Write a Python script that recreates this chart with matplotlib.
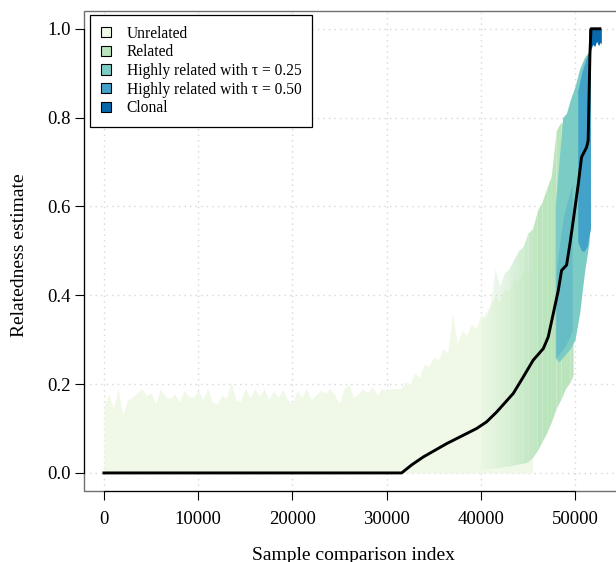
import matplotlib
matplotlib.use('Agg')
import matplotlib.pyplot as plt
from matplotlib.patches import Patch, Rectangle

plt.rcParams['font.family'] = ['Liberation Serif', 'DejaVu Serif']

# ---------------- data ----------------
categories = ['Unrelated', 'Related', 'Highly related with τ = 0.25',
              'Highly related with τ = 0.50', 'Clonal']
colors = ['#f0f9e8', '#bae4bc', '#7bccc4', '#43a2ca', '#0868ac']

unrel_idx = list(range(0, 45501, 500))
unrel_low = [0.0] * len(unrel_idx)
unrel_up = [0.15, 0.178, 0.145, 0.19, 0.13, 0.165, 0.17, 0.18, 0.19, 0.175,
            0.18, 0.155, 0.19, 0.172, 0.168, 0.178, 0.16, 0.185, 0.172, 0.17,
            0.186, 0.165, 0.19, 0.16, 0.155, 0.175, 0.168, 0.205, 0.165, 0.162,
            0.19, 0.17, 0.19, 0.172, 0.19, 0.165, 0.185, 0.17, 0.188, 0.164,
            0.155, 0.185, 0.17, 0.19, 0.165, 0.175, 0.186, 0.18, 0.19, 0.175,
            0.155, 0.19, 0.2, 0.17, 0.178, 0.19, 0.18, 0.195, 0.175, 0.19,
            0.185, 0.19, 0.19,
            0.19, 0.205, 0.2, 0.225, 0.215, 0.245, 0.24, 0.26, 0.255, 0.28,
            0.27, 0.36, 0.29, 0.32, 0.31, 0.335, 0.325, 0.355, 0.35, 0.375,
            0.4, 0.385, 0.415, 0.41, 0.44, 0.43, 0.455, 0.45, 0.46]

rel_idx = [40000, 40500, 41000, 41500, 42000, 42500, 43000, 43500, 44000, 44500,
           45000, 45500, 46000, 46500, 47000, 47500, 48000, 48500, 49000, 49500, 49800]
rel_low = [0.008, 0.01, 0.01, 0.012, 0.012, 0.015, 0.015, 0.018, 0.02, 0.022,
           0.025, 0.035, 0.05, 0.07, 0.09, 0.115, 0.145, 0.165, 0.19, 0.205, 0.22]
rel_up = [0.34, 0.36, 0.38, 0.46, 0.42, 0.45, 0.46, 0.48, 0.5, 0.51,
          0.54, 0.55, 0.59, 0.61, 0.64, 0.67, 0.77, 0.79, 0.78, 0.8, 0.79]

hr25_idx = [47900, 48300, 48700, 49100, 49500, 50000, 50500, 51000, 51500]
hr25_low = [0.26, 0.25, 0.26, 0.27, 0.28, 0.30, 0.36, 0.45, 0.52]
hr25_up = [0.6, 0.7, 0.8, 0.81, 0.84, 0.87, 0.91, 0.935, 0.95]

hr50a_idx = [48000, 48400, 48800, 49300, 49700]
hr50a_low = [0.26, 0.27, 0.28, 0.30, 0.32]
hr50a_up = [0.45, 0.52, 0.58, 0.62, 0.65]

hr50_idx = [50300, 50700, 51000, 51300, 51650]
hr50_low = [0.52, 0.5, 0.5, 0.51, 0.55]
hr50_up = [0.86, 0.9, 0.92, 0.94, 0.95]

clon_idx = [51450, 51700, 51900, 52100, 52300, 52500, 52700, 52800]
clon_low = [0.94, 0.955, 0.965, 0.96, 0.972, 0.962, 0.97, 0.965]
clon_up = [1.0] * len(clon_idx)

est_idx = [0, 31600, 32660, 33900, 36380, 39560, 40620, 41680, 43450, 44510,
           45570, 46640, 47160, 47700, 48230, 48580, 49110, 49460, 49810, 50350,
           50700, 51230, 51400, 51590, 51700, 52650]
est_val = [0.0, 0.0, 0.018, 0.036, 0.066, 0.100, 0.115, 0.137, 0.179, 0.216,
           0.254, 0.280, 0.306, 0.359, 0.411, 0.456, 0.468, 0.515, 0.567, 0.65,
           0.711, 0.733, 0.748, 0.944, 1.0, 1.0]

xticks = [0, 10000, 20000, 30000, 40000, 50000]
xticklabels = ['0', '10000', '20000', '30000', '40000', '50000']
yticks = [0.0, 0.2, 0.4, 0.6, 0.8, 1.0]
yticklabels = ['0.0', '0.2', '0.4', '0.6', '0.8', '1.0']

# ---------------- figure ----------------
W, H = 616, 562
fig = plt.figure(figsize=(W / 100, H / 100), dpi=100)
L, R, T, B = 84, 623, 11, 490.7
ax = fig.add_axes([L / W, (H - B) / H, (R - L) / W, (B - T) / H])
ax.set_xlim(-2120, 55100)
ax.set_ylim(-0.04, 1.04)

ax.set_xticks(xticks)
ax.set_xticklabels(xticklabels)
ax.set_yticks(yticks)
ax.set_yticklabels(yticklabels)
ax.grid(True, color='#d6d6d6', linestyle=(0, (1, 3)), linewidth=1.0)
ax.set_axisbelow(True)

ax.tick_params(axis='both', direction='out', length=6.5, width=0.8,
               colors='black', labelsize=13.5)
ax.tick_params(axis='x', pad=8.0)
ax.tick_params(axis='y', pad=3.0)

for s in ['top', 'right']:
    ax.spines[s].set_visible(False)
ax.spines['left'].set_bounds(0.0, 1.0)
ax.spines['bottom'].set_bounds(0, 50000)
ax.spines['left'].set_linewidth(0.8)
ax.spines['bottom'].set_linewidth(0.8)
ax.add_patch(Rectangle((0, 0), 1, 1, transform=ax.transAxes, fill=False,
                       edgecolor='#707070', linewidth=1.0, clip_on=False, zorder=0.5))

# bands
ax.fill_between(unrel_idx, unrel_low, unrel_up, color=colors[0], lw=0, zorder=2)
# related segments get denser from left to right: fade them in
rel_alpha = [0.12, 0.18, 0.24, 0.3, 0.36, 0.42, 0.5, 0.58, 0.66, 0.74,
             0.82, 0.9, 1, 1, 1, 1, 1, 1, 1, 1]
for i, a in enumerate(rel_alpha):
    ax.fill_between(rel_idx[i:i + 2], rel_low[i:i + 2], rel_up[i:i + 2],
                    color=colors[1], alpha=a, lw=0, zorder=3, antialiased=False)
ax.fill_between(hr25_idx, hr25_low, hr25_up, color=colors[2], lw=0, zorder=4)
ax.fill_between(hr50a_idx, hr50a_low, hr50a_up, color=colors[3], alpha=0.35, lw=0, zorder=5)
ax.fill_between(hr50_idx, hr50_low, hr50_up, color=colors[3], lw=0, zorder=5)
ax.fill_between(clon_idx, clon_low, clon_up, color=colors[4], lw=0, zorder=6)

ax.plot(est_idx, est_val, color='black', lw=2.1, zorder=7, solid_joinstyle='round')

# labels
fig.text(19.5 / W, 1 - 255 / H, 'Relatedness estimate', rotation=90,
         ha='center', va='center', fontsize=14)
fig.text(353 / W, 1 - 559.5 / H, 'Sample comparison index',
         ha='center', va='baseline', fontsize=14)

handles = [Patch(facecolor=c, edgecolor='black', linewidth=0.8) for c in colors]
leg = ax.legend(handles, categories, loc='upper left',
                bbox_to_anchor=(90 / W, 1 - 14.7 / H), bbox_transform=fig.transFigure,
                borderaxespad=0, fontsize=11.2, frameon=True, fancybox=False,
                edgecolor='black', framealpha=1, handlelength=0.65, handleheight=0.65,
                handletextpad=1.0, borderpad=0.7, labelspacing=0.17)
leg.get_frame().set_linewidth(0.9)
leg.set_zorder(10)

fig.savefig('out.png', dpi=100)
